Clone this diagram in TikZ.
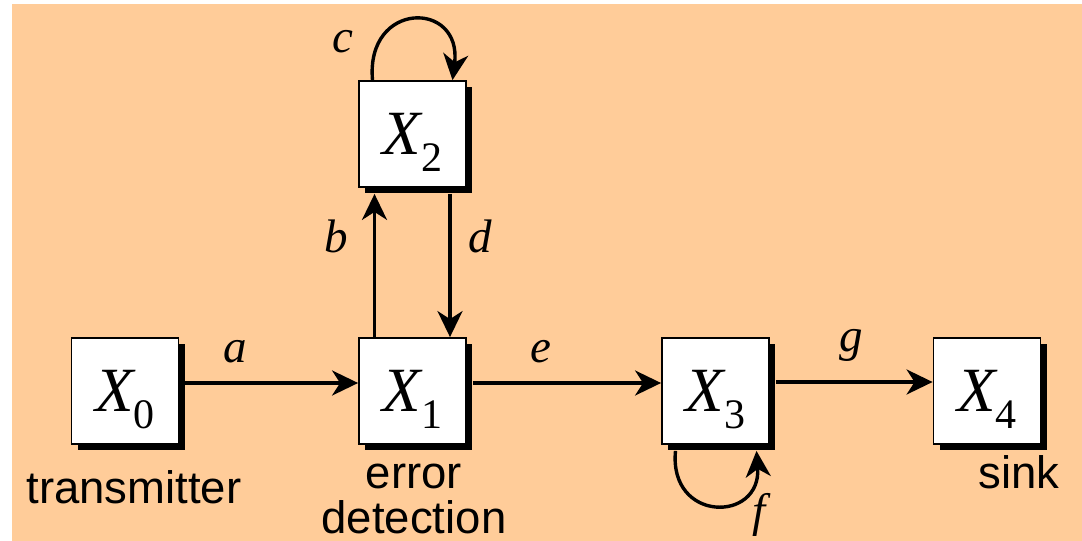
\documentclass[tikz,border=0pt]{standalone}
\usepackage{fontspec}
\setmainfont{Liberation Serif}
\newfontfamily\arialfont{Liberation Sans}
\usetikzlibrary{arrows.meta,shadows}
\definecolor{peach}{HTML}{FFCC99}
\begin{document}
\begin{tikzpicture}[x=1pt,y=-1pt,
  state/.style={draw=black, line width=1.8pt, fill=white, minimum width=107pt, minimum height=106pt, inner sep=0pt, text depth=0pt,
    font=\fontsize{63}{63}\selectfont\itshape,
    drop shadow={shadow xshift=6pt, shadow yshift=-6pt, opacity=1, fill=black}},
  lbl/.style={font=\fontsize{47}{47}\selectfont\itshape, inner sep=0pt},
  captext/.style={font=\arialfont\fontsize{45.5}{45}\selectfont, inner sep=0pt, align=center},
  conn/.style={line width=3.4pt, -{Stealth[length=26pt, width=25pt, inset=8pt]}}
]
\useasboundingbox (0,0) rectangle (1082,541);
\fill[white] (0,0) rectangle (1082,541);
\fill[peach] (12,4) rectangle (1082,541);

\newcommand{\sub}[1]{\raisebox{-17pt}{\fontsize{42}{42}\selectfont\upshape #1}}
\node[state] (X0) at (125,391) {X\sub{0}};
\node[state] (X1) at (412.5,391) {X\sub{1}};
\node[state] (X2) at (412.5,134) {X\sub{2}};
\node[state] (X3) at (715.5,391) {X\sub{3}};
\node[state] (X4) at (987,391) {X\sub{4}};

\draw[conn] ([shift={(6,-8)}]X0.east) -- ([yshift=8pt]X1.west);
\draw[conn] ([shift={(6,-8)}]X1.east) -- ([yshift=8pt]X3.west);
\draw[conn] ([shift={(6,-9)}]X3.east) -- ([yshift=9pt]X4.west);
\draw[conn] ([xshift=-38pt]X1.north) -- ([shift={(-38,6)}]X2.south);
\draw[conn] ([shift={(37.5,6)}]X2.south) -- ([xshift=37.5pt]X1.north);
\draw[conn] ([xshift=-40pt]X2.north) .. controls +(-7,-80) and +(10,-80) .. ([xshift=40pt]X2.north);
\draw[conn] ([shift={(-40,6)}]X3.south) .. controls +(-7,72) and +(5,72) .. ([shift={(41,6)}]X3.south);

\node[lbl] (la) at (235,352) {a};
\node[lbl] (lb) at (336,236) {b};
\node[lbl] (lc) at (343,42) {c};
\node[lbl] (ld) at (480,236) {d};
\node[lbl] (le) at (541,352) {e};
\node[lbl] (lf) at (759,515) {f};
\node[lbl] (lg) at (851,345) {g};

\node[captext, anchor=base] (t0) at (134,503) {transmitter};
\node[captext, anchor=base] (t1) at (414,533) {error\\detection};
\node[captext, anchor=base] (t4) at (1019,488) {sink};
\end{tikzpicture}
\end{document}
